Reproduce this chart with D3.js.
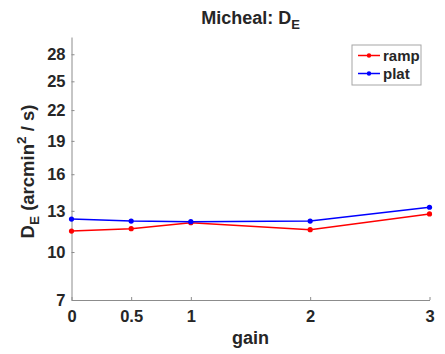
<!DOCTYPE html>
<html>
<head>
<meta charset="utf-8">
<script src="https://cdn.jsdelivr.net/npm/d3@7"></script>
<style>
  html, body { margin: 0; padding: 0; background: #fff; }
  svg { display: block; font-family: "Liberation Sans", Arial, Helvetica, sans-serif; }
  text { fill: #262626; font-weight: bold; }
</style>
</head>
<body>
<svg id="chart" width="445" height="354"></svg>
<script>
// Gain conditions on the x axis
const gains = [0, 0.5, 1, 2, 3];
const xTicks = [0, 0.5, 1, 2, 3];
// Diffusion constant D_E (arcmin^2 / s) per condition
const rampValues = [11.48, 11.65, 12.10, 11.58, 12.76];
const platValues = [12.37, 12.22, 12.17, 12.22, 13.28];
const yTicks = [7, 10, 13, 16, 19, 22, 25, 28];
const yDomain = [7, 30];

const series = [
  { name: "ramp", color: "#ff0000", values: rampValues },
  { name: "plat", color: "#0000ff", values: platValues }
];

const svg = d3.select("#chart");
const m = { left: 71.5, right: 429.5, top: 37, bottom: 300 };

const x = d3.scaleLinear().domain([0, 3]).range([m.left, m.right]);
const y = d3.scaleSqrt().domain(yDomain).range([m.bottom, m.top]);

const axisColor = "#8c8c8c";

// Y axis (ticks point into the plot)
const yAxis = svg.append("g")
  .attr("transform", `translate(${m.left},0)`)
  .call(d3.axisLeft(y).tickValues(yTicks).tickSizeInner(-3).tickSizeOuter(0).tickPadding(6));
// X axis
const xAxis = svg.append("g")
  .attr("transform", `translate(0,${m.bottom})`)
  .call(d3.axisBottom(x).tickValues(xTicks).tickFormat(d3.format("")).tickSizeInner(-3).tickSizeOuter(0).tickPadding(7));

[xAxis, yAxis].forEach(g => {
  g.select(".domain").attr("stroke", axisColor).attr("stroke-width", 1);
  g.selectAll(".tick line").attr("stroke", axisColor);
  g.selectAll(".tick text")
    .attr("fill", "#262626")
    .style("font-size", "16.5px")
    .style("font-weight", "bold")
    .style("font-family", "'Liberation Sans', Arial, sans-serif");
});
xAxis.selectAll(".tick text").attr("dy", "0.9em");

// Lines and markers
const line = d3.line()
  .x((d, i) => x(gains[i]))
  .y(d => y(d));

series.forEach(s => {
  svg.append("path")
    .datum(s.values)
    .attr("fill", "none")
    .attr("stroke", s.color)
    .attr("stroke-width", 1.5)
    .attr("d", line);
  svg.selectAll(null)
    .data(s.values)
    .enter().append("circle")
    .attr("cx", (d, i) => x(gains[i]))
    .attr("cy", d => y(d))
    .attr("r", 2.6)
    .attr("fill", s.color);
});

// Title
const title = svg.append("text")
  .attr("x", (m.left + m.right) / 2)
  .attr("y", 24)
  .attr("text-anchor", "middle")
  .style("font-size", "18px");
title.append("tspan").text("Micheal: D");
title.append("tspan").attr("dy", 5).style("font-size", "13px").text("E");

// X label
svg.append("text")
  .attr("x", (m.left + m.right) / 2)
  .attr("y", 344)
  .attr("text-anchor", "middle")
  .style("font-size", "18px")
  .text("gain");

// Y label
const yl = svg.append("text")
  .attr("transform", `translate(34,${(m.top + m.bottom) / 2 + 3}) rotate(-90)`)
  .attr("text-anchor", "middle")
  .style("font-size", "18.5px");
yl.append("tspan").text("D");
yl.append("tspan").attr("dy", 5).style("font-size", "13.5px").text("E");
yl.append("tspan").attr("dy", -5).text(" (arcmin");
yl.append("tspan").attr("dy", -8).style("font-size", "13.5px").text("2");
yl.append("tspan").attr("dy", 8).text(" / s)");

// Legend
const lg = svg.append("g").attr("transform", "translate(352,45)");
lg.append("rect")
  .attr("width", 69).attr("height", 40)
  .attr("fill", "#fff").attr("stroke", "#a6a6a6").attr("stroke-width", 1);
series.forEach((s, i) => {
  const cy = 10.5 + i * 18;
  lg.append("line")
    .attr("x1", 6).attr("x2", 28).attr("y1", cy).attr("y2", cy)
    .attr("stroke", s.color).attr("stroke-width", 1.5);
  lg.append("circle").attr("cx", 17).attr("cy", cy).attr("r", 2.2).attr("fill", s.color);
  lg.append("text")
    .attr("x", 31).attr("y", cy + 5.5)
    .style("font-size", "15px")
    .text(s.name);
});
</script>
</body>
</html>
